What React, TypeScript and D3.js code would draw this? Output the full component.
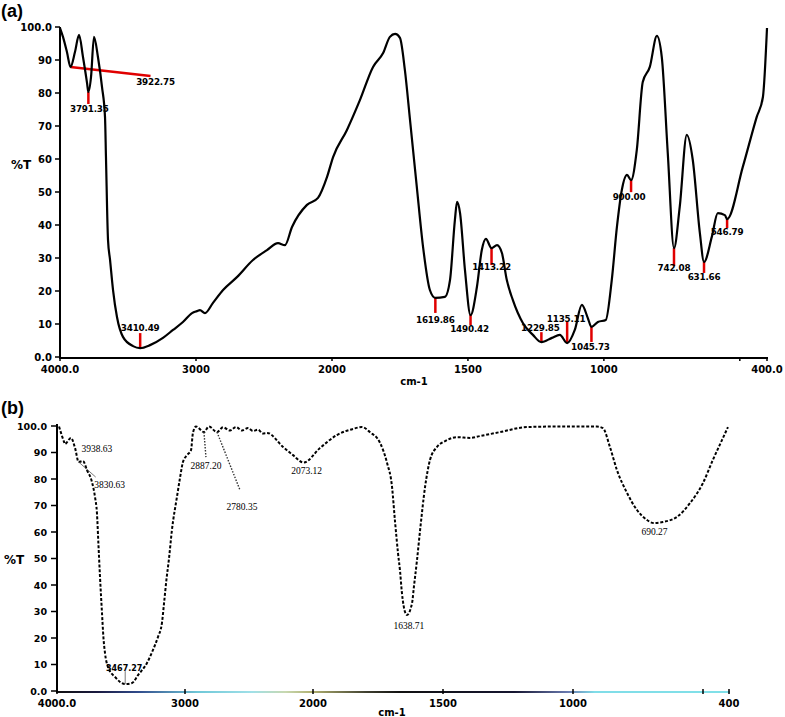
import * as d3 from "d3";

// panel (a) spectrum: wavenumber (cm-1) and %T
const wnA = [4000, 3978, 3949, 3922.75, 3890, 3860, 3831, 3801, 3791.35, 3772, 3750, 3721, 3691, 3669,
  3662, 3647, 3632, 3610, 3581, 3537, 3463, 3410.49, 3338, 3243, 3169, 3096, 3029, 2993, 2971, 2934,
  2875, 2801, 2699, 2581, 2478, 2397, 2346, 2294, 2184, 2103, 2037, 1996, 1945, 1897, 1849, 1812,
  1787, 1768, 1750, 1732, 1713, 1688, 1665, 1640, 1619.86, 1585, 1566, 1548, 1540, 1529, 1511,
  1490.42, 1467, 1449, 1434, 1413.22, 1393, 1375, 1357, 1335, 1298, 1261, 1229.85, 1191, 1162,
  1135.11, 1107, 1081, 1059, 1045.73, 1022, 993, 971, 952, 934, 915, 900, 879, 857, 831, 805, 787,
  765, 742.08, 721, 695, 673, 647, 631.66, 603, 581, 555, 546.79, 489, 438, 415, 400];
const tA = [99.7, 97, 92.4, 87.9, 92.4, 97.6, 90.9, 83, 80.3, 84.8, 97, 90.9, 81.8, 72.7,
  60.6, 35.5, 29.4, 20.3, 12.1, 6.1, 3.3, 2.7, 3.6, 5.8, 8.2, 10.6, 13.3, 13.9, 14.2, 13.3,
  16.4, 20.3, 24.2, 29.4, 32.4, 34.5, 33.9, 39.4, 46.1, 48.2, 54.5, 60.6, 68.8, 77.9, 87.9, 92.1,
  97, 97.9, 96.7, 87, 71.8, 51.5, 33.3, 20.3, 17.9, 18.2, 23.3, 41.5, 47, 43.6, 26.4,
  12.7, 21.2, 32.4, 35.8, 33, 33.9, 31.5, 23.3, 17.3, 10.3, 6.7, 4.5, 5.8, 6.7,
  4.2, 8.2, 15.8, 11.8, 9.1, 10.6, 11.2, 23.3, 39.4, 50.6, 55.2, 53.6, 62.7, 83.3, 87.9, 97.3, 90.9,
  61.8, 33, 45.5, 67.3, 59.7, 37.6, 28.8, 36.4, 43.6, 43, 41.8, 57.6, 72.7, 78.8, 99.7];
const peaksA = [3922.75, 3791.35, 3410.49, 1619.86, 1490.42, 1413.22, 1229.85, 1135.11, 1045.73,
  900.0, 742.08, 631.66, 546.79];

// panel (b) spectrum
const wnB = [3984, 3945, 3938.63, 3891, 3859, 3830.63, 3797, 3766, 3727, 3703, 3688, 3676, 3664,
  3648, 3637, 3625, 3602, 3547, 3467.27, 3414, 3367, 3297, 3250, 3211, 3180, 3164, 3145, 3125, 3102,
  3063, 3039, 3016, 2984, 2953, 2938, 2914, 2852, 2813, 2750, 2703, 2648, 2602, 2555, 2508, 2469,
  2430, 2391, 2359, 2234, 2156, 2073.12, 1973, 1908, 1846, 1812, 1781, 1742, 1715, 1696, 1685,
  1673, 1665, 1658, 1646, 1638.71, 1619, 1612, 1600, 1588, 1569, 1550, 1523, 1492, 1446, 1396,
  1358, 1281, 1177, 1062, 908, 885, 858, 831, 792, 754, 715, 690.27, 654, 600, 550, 500, 462, 427, 404];
const tB = [99.8, 94, 93.2, 95.5, 91.7, 86.4, 86.8, 83.4, 78.9, 73.2, 67.2, 55, 43,
  29, 20, 14.3, 9.1, 5.3, 2.6, 3, 6, 10.6, 15.5, 20.4, 25.7, 33, 42, 50, 60.8,
  73.2, 80.4, 86.4, 89, 90.9, 97.4, 99.8, 97.7, 99.8, 97.7, 99.5, 98.3, 99.6, 98.3, 99.2, 98.1,
  98.6, 97.2, 97.4, 92.1, 89, 86.2, 91.7, 96.6, 98.9, 99.6, 97.7, 93.6, 86, 77, 64.5,
  52, 45, 37, 29.8, 28.7, 33.2, 39.2, 49.4, 60.8, 77, 87.2, 92.1, 94.3, 95.8, 95.5,
  96.2, 97.7, 99.6, 99.8, 99.8, 99.2, 92.1, 83.4, 74.7, 68.3, 64.5, 63.4, 63.8, 65.7, 70.9, 78.5, 87.2, 94.7, 99.6];
const labelsB = ["3938.63", "3830.63", "2887.20", "2780.35", "2073.12", "1638.71", "690.27", "3467.27"];
const anchorsB = [3938.63, 3830.63, 2852, 2750, 2073.12, 1638.71, 690.27, 3467.27];

const xTicks = [4000, 3000, 2000, 1500, 1000, 500, 400];
const xLabelsA = ["4000.0", "3000", "2000", "1500", "1000", "", "400.0"];
const xLabelsB = ["4000.0", "3000", "2000", "1500", "1000", "", "400"];
const yTicks = [0, 10, 20, 30, 40, 50, 60, 70, 80, 90, 100];
const yLabels = ["0.0", "10", "20", "30", "40", "50", "60", "70", "80", "90", "100.0"];

// label placement relative to the peak point: marker end (ex, ey), label (lx, ly)
const layoutA = [
  [80, 9, 85, 18], [0, 12, 1, 20], [0, -15, 0, -17], [0, 15, 0, 25], [0, 10, -1, 17],
  [0, 17, 0, 22], [0, -10, -1, -11], [0, -22, -1, -21], [0, 15, -1, 23], [0, 12, -2, 20],
  [0, 18, 0, 23], [0, 11, 0, 18], [0, 9, 0, 16],
];
// leader end (ex, ey) or null, label (lx, ly)
const layoutB: [number, number, number, number, string][] = [
  [0, 0, 32, 8, "none"], [17, 15, 31, 26, "solid"], [2, 25, 2, 37, "dot"], [23, 58, 25, 78, "dot"],
  [0, 0, 3, 11.5, "none"], [0, 0, 2, 14, "none"], [0, 0, 1, 12, "none"], [0, -13, -1, -13, "solid"],
];

const sans = "'DejaVu Sans', Verdana, sans-serif";
const serif = "'Liberation Serif', 'Times New Roman', serif";

export default function App() {
  const xA = d3.scaleLinear().domain([4000, 2000, 400]).range([60, 332, 767]);
  const yA = d3.scaleLinear().domain([0, 100]).range([357, 27]);
  const xB = d3.scaleLinear().domain([4000, 2000, 400]).range([57, 313, 729]);
  const yB = d3.scaleLinear().domain([0, 100]).range([691, 426]);

  const ptsA = wnA.map((w, i) => [w, tA[i]] as [number, number]);
  const ptsB = wnB.map((w, i) => [w, tB[i]] as [number, number]);
  const lineA = d3.line<[number, number]>().x(d => xA(d[0])).y(d => yA(d[1])).curve(d3.curveMonotoneX);
  const lineB = d3.line<[number, number]>().x(d => xB(d[0])).y(d => yB(d[1])).curve(d3.curveMonotoneX);

  const tAt = (wns: number[], ts: number[], w: number) => ts[wns.indexOf(w)];

  const gradStops = [
    [0, "#111"], [0.06, "#1a1a40"], [0.12, "#304a8a"], [0.21, "#70c8d8"], [0.29, "#a0e0e8"],
    [0.34, "#c8d8b0"], [0.38, "#b0b070"], [0.46, "#404030"], [0.51, "#111"], [0.68, "#151530"],
    [0.76, "#6a7ab0"], [0.8, "#80dde8"], [1, "#80e0e8"],
  ];

  return (
    <div style={{ position: "absolute", left: 0, top: 0 }}>
      <svg width={785} height={717} style={{ display: "block", background: "#fff" }}>
        <defs>
          <linearGradient id="axisB" x1={xB(4000)} x2={xB(400)} y1={0} y2={0} gradientUnits="userSpaceOnUse">
            {gradStops.map(([o, c], i) => <stop key={i} offset={o as number} stopColor={c as string} />)}
          </linearGradient>
        </defs>

        {/* ---------- panel (a) ---------- */}
        <text x={1} y={17} fontFamily="Arial, 'Liberation Sans', sans-serif" fontWeight="bold" fontSize={18}>(a)</text>
        <line x1={xA(4000)} x2={xA(4000)} y1={yA(100)} y2={yA(0) + 1} stroke="#000" strokeWidth={2} />
        <line x1={xA(4000) - 1} x2={xA(400) + 1} y1={yA(0) + 1} y2={yA(0) + 1} stroke="#000" strokeWidth={2} />
        {yTicks.map((t, i) => (
          <g key={"ya" + i}>
            <line x1={xA(4000) - 5} x2={xA(4000)} y1={yA(t)} y2={yA(t)} stroke="#000" strokeWidth={1.5} />
            <text x={xA(4000) - 8} y={yA(t) + 3.5} textAnchor="end" fontFamily={sans} fontWeight="bold" fontSize={10}>{yLabels[i]}</text>
          </g>
        ))}
        {xTicks.map((w, i) => (
          <g key={"xa" + i}>
            <line x1={xA(w)} x2={xA(w)} y1={yA(0) + 1} y2={yA(0) + 4} stroke="#000" strokeWidth={1.5} />
            <text x={xA(w)} y={yA(0) + 16} textAnchor="middle" fontFamily={sans} fontWeight="bold" fontSize={10}>{xLabelsA[i]}</text>
          </g>
        ))}
        <text x={21} y={169} textAnchor="middle" fontFamily={sans} fontWeight="bold" fontSize={12}>%T</text>
        <text x={414} y={385} textAnchor="middle" fontFamily={sans} fontWeight="bold" fontSize={10}>cm-1</text>

        {peaksA.map((w, i) => {
          const px = xA(w), py = yA(tAt(wnA, tA, w));
          const [ex, ey, lx, ly] = layoutA[i];
          return (
            <line key={"pm" + i} x1={px} y1={py} x2={px + ex} y2={py + ey} stroke="#e00000" strokeWidth={2.5} />
          );
        })}
        <path d={lineA(ptsA) ?? ""} fill="none" stroke="#000" strokeWidth={2.2} strokeLinejoin="round" />
        {peaksA.map((w, i) => {
          const px = xA(w), py = yA(tAt(wnA, tA, w));
          const [, , lx, ly] = layoutA[i];
          return (
            <text key={"pl" + i} x={px + lx} y={py + ly} textAnchor="middle" fontFamily={sans} fontWeight="bold" fontSize={8.8} letterSpacing={-0.2}>
              {w.toFixed(2)}
            </text>
          );
        })}

        {/* ---------- panel (b) ---------- */}
        <text x={1} y={414} fontFamily="Arial, 'Liberation Sans', sans-serif" fontWeight="bold" fontSize={18}>(b)</text>
        <line x1={xB(4000)} x2={xB(4000)} y1={yB(100) - 2} y2={yB(0) + 1} stroke="#000" strokeWidth={2} />
        <line x1={xB(4000) - 1} x2={xB(400) + 1} y1={yB(0) + 1} y2={yB(0) + 1} stroke="url(#axisB)" strokeWidth={2} />
        {yTicks.map((t, i) => (
          <g key={"yb" + i}>
            <line x1={xB(4000) - 6} x2={xB(4000)} y1={yB(t)} y2={yB(t)} stroke="#000" strokeWidth={1.5} />
            <text x={xB(4000) - 10} y={yB(t) + 3.5} textAnchor="end" fontFamily={sans} fontWeight="bold" fontSize={9.5}>{yLabels[i]}</text>
          </g>
        ))}
        {xTicks.map((w, i) => (
          <g key={"xb" + i}>
            <line x1={xB(w)} x2={xB(w)} y1={yB(0) - 2} y2={yB(0) + 3} stroke="#000" strokeWidth={1.5} />
            <text x={xB(w)} y={yB(0) + 16} textAnchor="middle" fontFamily={sans} fontWeight="bold" fontSize={10}>{xLabelsB[i]}</text>
          </g>
        ))}
        <text x={14} y={564} textAnchor="middle" fontFamily={sans} fontWeight="bold" fontSize={12}>%T</text>
        <text x={392} y={716} textAnchor="middle" fontFamily={sans} fontWeight="bold" fontSize={10}>cm-1</text>

        <path d={lineB(ptsB) ?? ""} fill="none" stroke="#000" strokeWidth={2} strokeDasharray="3 1.8" />
        {anchorsB.map((w, i) => {
          const px = xB(w), py = yB(tAt(wnB, tB, w));
          const [ex, ey, lx, ly, kind] = layoutB[i];
          const bold = labelsB[i] === "3467.27";
          return (
            <g key={"bl" + i}>
              {kind !== "none" && (
                <line x1={px} y1={py} x2={px + ex} y2={py + ey} stroke={kind === "dot" ? "#333" : "#555"}
                  strokeWidth={kind === "dot" ? 1.4 : 0.8} strokeDasharray={kind === "dot" ? "1.5 1.5" : undefined} />
              )}
              <text x={px + lx} y={py + ly} textAnchor="middle"
                fontFamily={bold ? sans : serif} fontWeight={bold ? "bold" : "normal"} fontSize={bold ? 8 : 9.5}>
                {labelsB[i]}
              </text>
            </g>
          );
        })}
      </svg>
    </div>
  );
}
